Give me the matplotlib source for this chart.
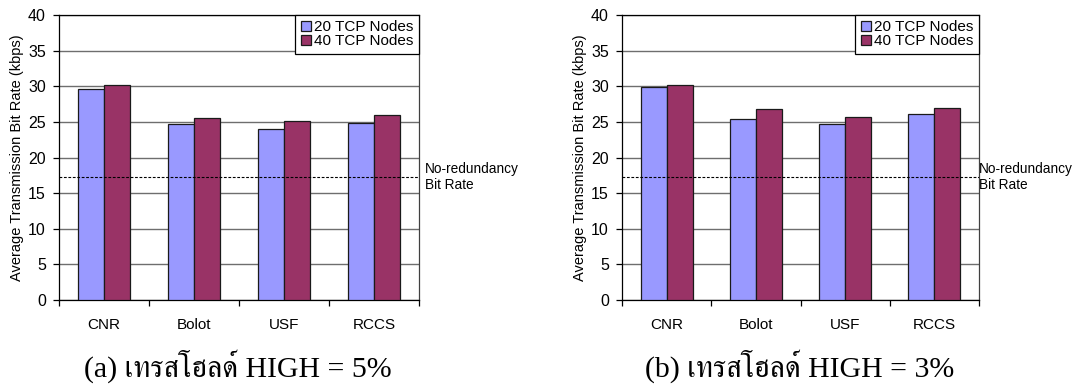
import numpy as np
import matplotlib
matplotlib.use("Agg")
import matplotlib.pyplot as plt
from matplotlib import font_manager
from matplotlib.ft2font import FT2Font

# ---- data -------------------------------------------------------------
categories = ["CNR", "Bolot", "USF", "RCCS"]
series_labels = ["20 TCP Nodes", "40 TCP Nodes"]
high5_nodes20 = [29.6, 24.7, 24.0, 24.8]
high5_nodes40 = [30.2, 25.6, 25.1, 26.0]
high3_nodes20 = [29.9, 25.4, 24.7, 26.1]
high3_nodes40 = [30.2, 26.8, 25.7, 27.0]
no_redundancy_rate = 17.3
y_ticks = [0, 5, 10, 15, 20, 25, 30, 35, 40]
captions = ["(a) เทรสโฮลด์ HIGH = 5%", "(b) เทรสโฮลด์ HIGH = 3%"]
y_label = "Average Transmission Bit Rate (kbps)"
ref_label = "No-redundancy\nBit Rate"

# ---- style ------------------------------------------------------------
W, H = 1080, 385
color_20 = "#9999FF"
color_40 = "#993366"
sans = ["Liberation Sans", "DejaVu Sans"]


def thai_capable_families():
    names = []
    for entry in font_manager.fontManager.ttflist:
        try:
            if 0x0E40 in FT2Font(entry.fname).get_charmap():
                names.append(entry.name)
        except Exception:
            pass
    names = sorted(set(names))
    serif_first = [n for n in names if "Serif" in n] + [n for n in names if "Serif" not in n]
    return serif_first


caption_family = ["Liberation Serif"] + thai_capable_families() + ["DejaVu Serif", "DejaVu Sans"]

plt.rcParams["font.family"] = sans

fig = plt.figure(figsize=(W / 100, H / 100), dpi=100)


def px_axes(x0, x1, y_top, y_bottom):
    return fig.add_axes([x0 / W, 1 - y_bottom / H, (x1 - x0) / W, (y_bottom - y_top) / H])


def draw_panel(ax, vals20, vals40, label_dx):
    x = np.arange(len(categories))
    bw = 0.29
    ax.set_axisbelow(True)
    ax.bar(x - bw / 2, vals20, bw, color=color_20, edgecolor="#1a1a1a", linewidth=0.9,
           label=series_labels[0], zorder=3)
    ax.bar(x + bw / 2, vals40, bw, color=color_40, edgecolor="#1a1a1a", linewidth=0.9,
           label=series_labels[1], zorder=3)
    ax.set_xlim(-0.5, len(categories) - 0.5)
    ax.set_ylim(0, 40)
    ax.set_yticks(y_ticks)
    ax.yaxis.grid(True, color="#6e6e6e", linewidth=1.0, zorder=0)
    ax.tick_params(axis="y", direction="out", length=4.5, width=0.9, pad=5, labelsize=11.5)
    # category boundaries carry the tick marks, labels sit between them
    ax.set_xticks(np.arange(len(categories) + 1) - 0.5)
    ax.set_xticklabels([])
    ax.set_xticks(x, minor=True)
    ax.set_xticklabels(categories, minor=True, fontsize=11)
    ax.tick_params(axis="x", which="major", direction="out", length=4.5, width=0.9)
    ax.tick_params(axis="x", which="minor", length=0, pad=13)
    for side in ["left", "bottom", "top"]:
        ax.spines[side].set_color("black")
        ax.spines[side].set_linewidth(0.9)
    ax.spines["right"].set_color("#404040")
    ax.spines["right"].set_linewidth(0.9)
    ax.axhline(no_redundancy_rate, color="black", linestyle=(0, (2.5, 1.5)), linewidth=0.8,
               zorder=4)
    ax.annotate(ref_label, xy=(1, no_redundancy_rate), xycoords=("axes fraction", "data"),
                xytext=(label_dx, 0), textcoords="offset pixels", ha="left", va="center",
                fontsize=9.8, linespacing=1.2)
    ax.set_ylabel(y_label, fontsize=10.5, labelpad=3)
    leg = ax.legend(loc="upper right", bbox_to_anchor=(1, 1), borderaxespad=0,
                    frameon=True, fancybox=False, edgecolor="black", framealpha=1,
                    fontsize=11, handlelength=0.7, handleheight=0.7,
                    handletextpad=0.2, labelspacing=0.0, borderpad=0.35)
    leg.get_frame().set_linewidth(0.9)
    leg.set_zorder(5)


ax_a = px_axes(59, 419, 15, 300)
draw_panel(ax_a, high5_nodes20, high5_nodes40, 6)
ax_b = px_axes(622, 979, 15, 300)
draw_panel(ax_b, high3_nodes20, high3_nodes40, 0)

for cx, text in zip([238, 800], captions):
    fig.text(cx / W, 1 - 377 / H, text, ha="center", va="baseline", fontsize=21.5,
             family=caption_family)

fig.savefig("out.png", dpi=100)
